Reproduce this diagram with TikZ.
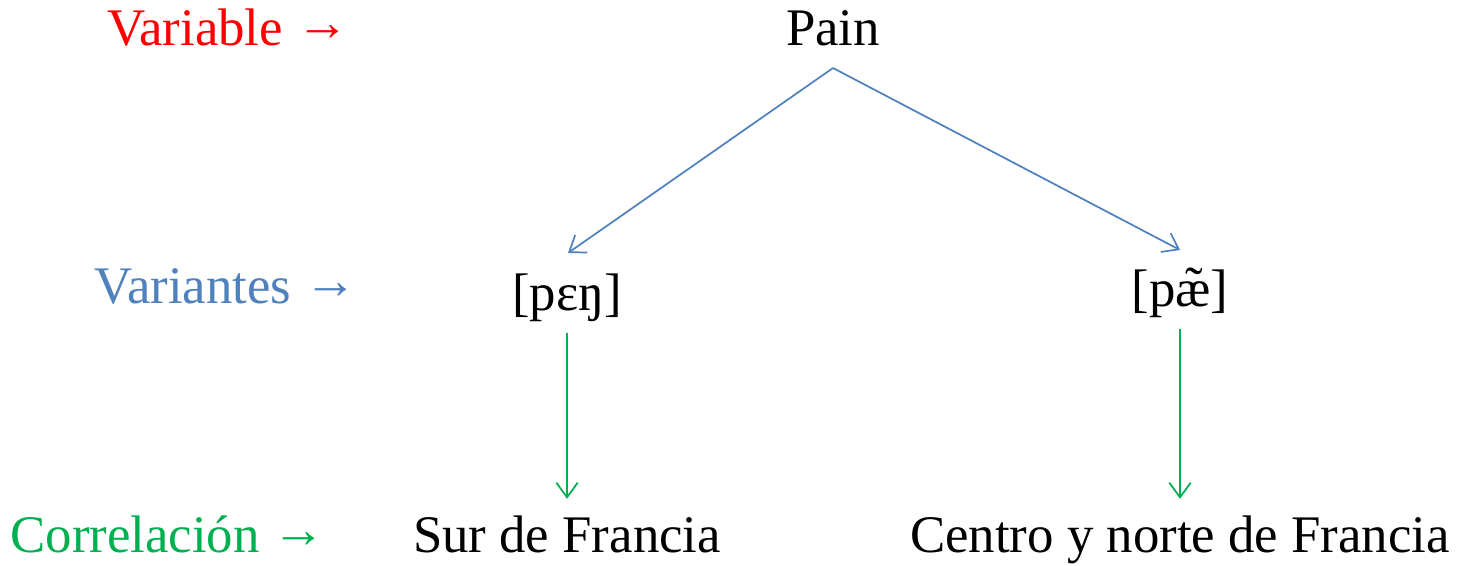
\documentclass[tikz,border=0pt]{standalone}
\usepackage{fontspec}
\setmainfont{Liberation Serif}
\usepackage{tikz}
\usetikzlibrary{arrows.meta}
\definecolor{varblue}{RGB}{79,129,189}
\definecolor{corgreen}{RGB}{0,176,80}
\newcommand{\rarr}{\raisebox{3.5pt}{→}}

\begin{document}
\begin{tikzpicture}[x=.75pt,y=-.75pt,
  lab/.style={anchor=base,inner sep=0,text height=29.7pt,text depth=9.9pt,font=\fontsize{39.6}{46}\selectfont},
  branch/.style={draw=varblue,line width=1.3pt,-{Straight Barb[length=11pt,width=16pt]}},
  link/.style={draw=corgreen,line width=1.3pt,-{Straight Barb[length=11pt,width=16pt]},shorten <=7pt,shorten >=10pt}]
 \useasboundingbox (0,0) rectangle (1458,565);
 \begin{scope}[every node/.style={lab}]
  \node[red] (var) at (228,45) {Variable \rarr};
  \node[varblue] (vnt) at (226,303) {Variantes \rarr};
  \node[corgreen] (cor) at (168,552) {Correlación \rarr};
  \node (pain) at (833,45) {Pain};
  \node (pen) at (567,310) {[pɛŋ]};
  \node (pae) at (1180,306) {[pæ̃]};
  \node (sur) at (567,552) {Sur de Francia};
  \node (cen) at (1180,552) {Centro y norte de Francia};
 \end{scope}
 \coordinate (apex) at (833,68);
 \coordinate (lt) at (568,253);
 \coordinate (rt) at (1180,250);
 \draw[branch] (apex) -- (lt);
 \draw[branch] (apex) -- (rt);
 \draw[link] (pen) -- (sur);
 \draw[link] (pae) -- (cen);
\end{tikzpicture}
\end{document}
